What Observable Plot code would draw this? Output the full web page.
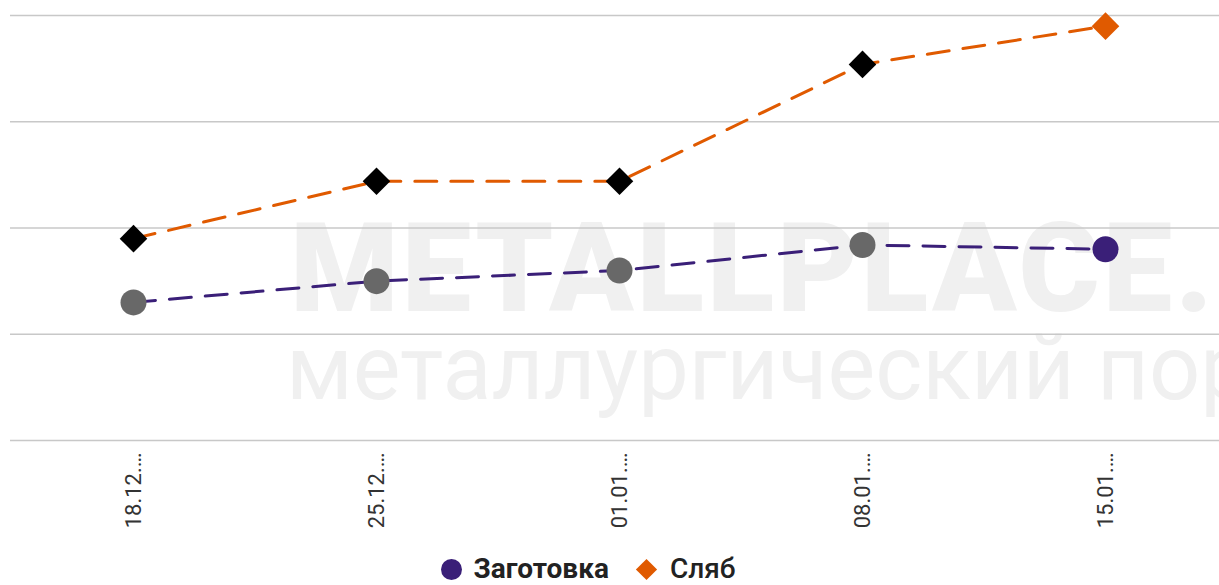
<!DOCTYPE html>
<html>
<head>
<meta charset="utf-8">
<script src="https://cdn.jsdelivr.net/npm/d3@7"></script>
<script src="https://cdn.jsdelivr.net/npm/@observablehq/plot@0.6"></script>
<style>
  html, body { margin: 0; padding: 0; background: #fff; }
  body { width: 1219px; height: 585px; overflow: hidden; position: relative; font-family: Roboto, "Noto Sans", sans-serif; }
  #wm1 { position: absolute; left: 290px; top: 196px; font: 900 124px Roboto, sans-serif; color: #f0f0f0; white-space: nowrap; letter-spacing: 3px; }
  #wm2 { position: absolute; left: 286px; top: 316px; font: 400 90px Roboto, sans-serif; color: #f0f0f0; white-space: nowrap; }
  #chart { position: absolute; left: 0; top: 0; }
  #legend { position: absolute; left: 0; width: 1176px; top: 553px; height: 32px; line-height: 32px; display: flex; justify-content: center; align-items: center; font-size: 28px; color: #222; }
  .sw { display: inline-block; margin-right: 12px; }
</style>
</head>
<body>
<div id="wm1">METALLPLACE.RU</div>
<div id="wm2">металлургический портал</div>
<div id="chart"></div>
<div id="legend">
  <span class="sw" style="width:21px;height:21px;border-radius:50%;background:#3a1f78;"></span>
  <span style="font-weight:700;margin-right:30px;">Заготовка</span>
  <span class="sw" style="width:15px;height:15px;background:#e05a00;transform:rotate(45deg);margin-right:16px;"></span>
  <span style="font-weight:500;">Сляб</span>
</div>
<script>
const dates = ["18.12.…", "25.12.…", "01.01.…", "08.01.…", "15.01.…"];
const billet = [465, 475, 480, 492, 490];
const slab = [495, 522, 522, 577, 595];
const gridTicks = [400, 450, 500, 550, 600];

const billetData = dates.map((d, i) => ({date: d, value: billet[i], last: i === dates.length - 1}));
const slabData = dates.map((d, i) => ({date: d, value: slab[i], last: i === dates.length - 1}));

const chart = Plot.plot({
  width: 1219,
  height: 545,
  marginLeft: 10,
  marginRight: 0,
  marginTop: 15,
  marginBottom: 105,
  style: {background: "transparent", fontFamily: "Roboto, sans-serif"},
  x: {type: "point", domain: dates, range: [131, 1106], padding: 0, label: null},
  y: {domain: [400, 600], label: null, axis: null},
  marks: [
    Plot.ruleY(gridTicks, {stroke: "#c8c8c8", strokeWidth: 1.5}),
    Plot.line(slabData, {x: "date", y: "value", stroke: "#e05a00", strokeWidth: 3, strokeDasharray: "22,14"}),
    Plot.line(billetData, {x: "date", y: "value", stroke: "#3a1f78", strokeWidth: 3, strokeDasharray: "22,14"}),
    Plot.dot(slabData, {x: "date", y: "value", symbol: "square", rotate: 45, r: 11, fill: d => d.last ? "#e05a00" : "#000", stroke: "none"}),
    Plot.dot(billetData, {x: "date", y: "value", r: 13, fill: d => d.last ? "#3a1f78" : "#686868", stroke: "none"}),
    Plot.axisX({tickRotate: -90, tickSize: 0, tickPadding: 12, fontSize: 22, fill: "#333", label: null})
  ]
});
document.getElementById("chart").appendChild(chart);
</script>
</body>
</html>
